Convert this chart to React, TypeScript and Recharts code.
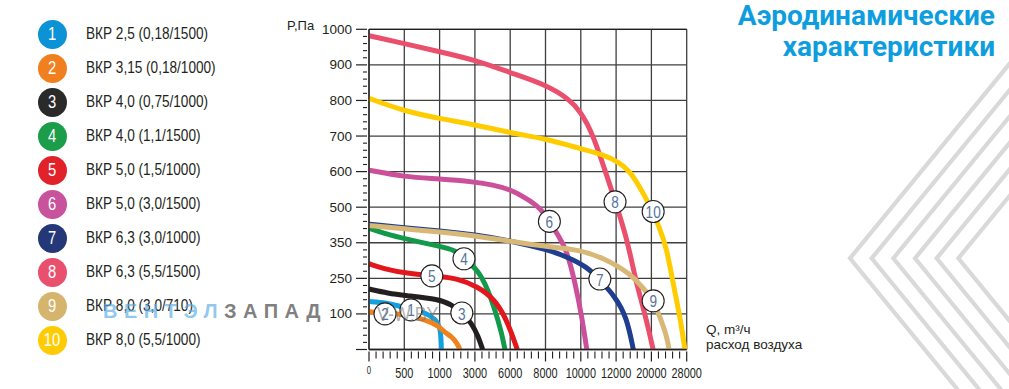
import { ComposedChart, Line, Scatter, XAxis, YAxis, CartesianGrid } from "recharts"

// axis tick values (the grid is non-linear: every cell is one tick step)
const Q_TICKS = [0, 500, 1000, 3000, 6000, 8000, 10000, 12000, 20000, 28000]
const P_TICKS = [0, 100, 250, 350, 500, 600, 700, 800, 900, 1000]
const TOP_TICKS = ["0", "0.14", "0.27", "0.83", "1.6", "2.2", "2.7", "3.3", "5.5", "7.7"]

// [Q m3/h, P Pa]
const curve1 = [[0, 152], [250, 147], [440, 132], [650, 117], [800, 104], [950, 85], [1040, 60], [1080, 30], [1100, 0]]
const curve2 = [[0, 109], [250, 106], [500, 98], [800, 84], [1000, 65], [1200, 51], [1700, 36], [2000, 17], [2150, 0]]
const curve3 = [[0, 205], [273, 187], [500, 178], [1000, 162], [1680, 138], [2260, 106], [2820, 74], [3290, 36], [3660, 0]]
const curve4 = [[0, 411], [226, 388], [500, 367], [1000, 340], [1880, 330], [2380, 305], [3270, 274], [4110, 202], [4710, 117], [5280, 46], [5550, 0]]
const curve5 = [[0, 291], [273, 274], [500, 265], [1000, 255], [1880, 251], [3270, 216], [4710, 159], [5550, 92], [6080, 46], [6400, 0]]
const curve6 = [[0, 604], [500, 585], [1000, 580], [3000, 571], [4500, 563], [6000, 550], [6840, 527], [7680, 500], [8220, 440], [8700, 384], [9200, 330], [9680, 231], [10060, 92], [10340, 0]]
const curve7 = [[0, 428], [500, 413], [1000, 401], [3000, 384], [6000, 359], [8140, 330], [9200, 311], [10340, 283], [11080, 244], [11940, 173], [14400, 92], [15900, 0]]
const curve8 = [[0, 982], [500, 960], [1000, 937], [3000, 914], [6000, 878], [8000, 845], [9380, 803], [10000, 766], [10360, 735], [10700, 700], [11380, 603], [12240, 500], [14700, 350], [16300, 250], [18550, 100], [20400, 0]]
const curve9 = [[0, 423], [500, 409], [1000, 396], [3000, 380], [6000, 356], [8060, 339], [9960, 330], [11260, 308], [15120, 265], [18560, 202], [20400, 155], [21920, 92], [23520, 36], [24000, 0]]
const curve10 = [[0, 806], [500, 770], [1000, 749], [3000, 732], [6000, 709], [8060, 692], [10000, 664], [11260, 648], [12880, 625], [15120, 601], [17440, 555], [19200, 516], [21920, 413], [23520, 331], [24880, 232], [26480, 92], [27600, 0]]

// where the circled numbers sit on the curves
const labelSpots = [[595, 117], [227, 100], [2260, 104], [2380, 305], [890, 257], [8220, 440], [11080, 247], [11940, 515], [20400, 155], [20400, 482]]

const models = [
  "ВКР 2,5 (0,18/1500)",
  "ВКР 3,15 (0,18/1000)",
  "ВКР 4,0 (0,75/1000)",
  "ВКР 4,0 (1,1/1500)",
  "ВКР 5,0 (1,5/1000)",
  "ВКР 5,0 (3,0/1500)",
  "ВКР 6,3 (3,0/1000)",
  "ВКР 6,3 (5,5/1500)",
  "ВКР 8,0 (3,0/710)",
  "ВКР 8,0 (5,5/1000)",
]

const legendColors = ["#0b93d6", "#ef7f1f", "#2a2a2a", "#1b9d4a", "#e2222a", "#c9529c", "#243877", "#e8506e", "#d5b46e", "#ffcb05"]
const lineColors = ["#12a0e0", "#f0821e", "#231f20", "#12994a", "#e3161d", "#cc4f9a", "#1f3e8f", "#ea4f6d", "#d8b876", "#ffcc00"]

const toGrid = (v: number, ticks: number[]) => {
  for (let i = 0; i < ticks.length - 1; i++) {
    if (v <= ticks[i + 1]) return i + (v - ticks[i]) / (ticks[i + 1] - ticks[i])
  }
  return ticks.length - 1
}

const curves = [curve1, curve2, curve3, curve4, curve5, curve6, curve7, curve8, curve9, curve10]
const series = curves.map((c) => c.map(([q, p]) => ({ x: toGrid(q, Q_TICKS), y: toGrid(p, P_TICKS) })))
const labels = labelSpots.map(([q, p], i) => ({ x: toGrid(q, Q_TICKS), y: toGrid(p, P_TICKS), n: i + 1 }))

const MAJOR = Q_TICKS.map((_, i) => i)
const MINOR = Array.from({ length: 46 }, (_, k) => k / 5)

const AXIS_FONT = "'Liberation Sans', Arial, sans-serif"
const INK = "#231f20"

const isMajor = (v: number) => Math.abs(v - Math.round(v)) < 1e-6

function BottomTick({ x, y, payload }: any) {
  const v = payload.value
  if (!isMajor(v)) return <line x1={x} y1={y} x2={x} y2={y + 7} stroke={INK} strokeWidth={1.1} />
  const i = Math.round(v)
  return (
    <g>
      <line x1={x} y1={y} x2={x} y2={y + 10} stroke={INK} strokeWidth={1.2} />
      <text
        transform={`translate(${x},${y + (i === 0 ? 19 : 22)}) scale(0.78,1)`}
        textAnchor="middle"
        dominantBaseline="central"
        fontFamily={AXIS_FONT}
        fontSize={i === 0 ? 10 : 14}
        fill={INK}
      >
        {Q_TICKS[i]}
      </text>
    </g>
  )
}

function TopTick({ x, y, payload }: any) {
  const v = payload.value
  if (!isMajor(v)) return <line x1={x} y1={y} x2={x} y2={y - 5} stroke={INK} strokeWidth={1.1} />
  const i = Math.round(v)
  return (
    <g>
      <line x1={x} y1={y} x2={x} y2={y - 9} stroke={INK} strokeWidth={1.2} />
      <text
        x={x - (i === 0 ? 1.5 : 0)}
        y={y - (i === 0 ? 17 : 19.5)}
        textAnchor="middle"
        dominantBaseline="central"
        fontFamily={AXIS_FONT}
        fontSize={i === 0 ? 10 : 13.5}
        fill={INK}
      >
        {TOP_TICKS[i]}
      </text>
    </g>
  )
}

function LeftTick({ x, y, payload }: any) {
  const v = payload.value
  if (!isMajor(v)) return <line x1={x} y1={y} x2={x - 4} y2={y} stroke={INK} strokeWidth={1.1} />
  const i = Math.round(v)
  return (
    <g>
      <line x1={x} y1={y} x2={x - 11} y2={y} stroke={INK} strokeWidth={1.2} />
      {i > 0 && (
        <text x={x - 15} y={y} textAnchor="end" dominantBaseline="central" fontFamily={AXIS_FONT} fontSize={13.5} fill={INK}>
          {P_TICKS[i]}
        </text>
      )}
    </g>
  )
}

function CurveLabel({ cx, cy, payload }: any) {
  return (
    <g>
      <circle cx={cx} cy={cy} r={11} fill="#ffffff" stroke={INK} strokeWidth={1.1} />
      <text
        transform={`translate(${cx},${cy + 0.5}) scale(0.8,1)`}
        textAnchor="middle"
        dominantBaseline="central"
        fontFamily={AXIS_FONT}
        fontSize={17}
        fill="#55739b"
      >
        {payload.n}
      </text>
    </g>
  )
}

function Chevrons() {
  const vy = 258.3
  const slope = 1.22
  return (
    <svg width={1009} height={389} style={{ position: "absolute", left: 0, top: 0 }}>
      {[0, 1, 2, 3, 4, 5].map((k) => {
        const vx = 850 + k * 21.67
        const pts = `${vx + (vy + 20) / slope},-20 ${vx},${vy} ${vx + (420 - vy) / slope},420`
        return <polyline key={k} points={pts} fill="none" stroke="#d9d9d9" strokeWidth={4.2} />
      })}
    </svg>
  )
}

export default function App() {
  return (
    <div style={{ position: "absolute", left: 0, top: 0, width: 1009, height: 389, background: "#fff", overflow: "hidden" }}>
      <Chevrons />

      <div style={{ position: "absolute", left: 0, top: 0 }}>
        <ComposedChart width={1009} height={389} margin={{ top: 4.3, right: 322.3, bottom: 9.5, left: 329 }}>
          <CartesianGrid xAxisId="b" yAxisId="l" stroke="#3f3f3f" strokeWidth={1.3} verticalValues={MAJOR} horizontalValues={MAJOR} />
          <XAxis
            xAxisId="t"
            orientation="top"
            type="number"
            domain={[0, 9]}
            ticks={MINOR}
            interval={0}
            height={25}
            tickSize={0}
            tickLine={false}
            axisLine={{ stroke: INK, strokeWidth: 1.3 }}
            tick={(p: any) => <TopTick {...p} />}
          />
          <XAxis
            xAxisId="b"
            dataKey="x"
            type="number"
            domain={[0, 9]}
            ticks={MINOR}
            interval={0}
            height={30}
            tickSize={0}
            tickLine={false}
            axisLine={{ stroke: INK, strokeWidth: 1.3 }}
            tick={(p: any) => <BottomTick {...p} />}
          />
          <YAxis
            yAxisId="l"
            type="number"
            domain={[0, 9]}
            ticks={MINOR}
            interval={0}
            width={40}
            tickSize={0}
            tickLine={false}
            axisLine={{ stroke: INK, strokeWidth: 1.3 }}
            tick={(p: any) => <LeftTick {...p} />}
          />
          {series.map((d, i) => (
            <Line
              key={i}
              xAxisId="b"
              yAxisId="l"
              data={d}
              dataKey="y"
              type="basis"
              stroke={lineColors[i]}
              strokeWidth={5}
              dot={false}
              activeDot={false}
              isAnimationActive={false}
            />
          ))}
          <Scatter xAxisId="b" yAxisId="l" data={labels} dataKey="y" shape={(p: any) => <CurveLabel {...p} />} isAnimationActive={false} />
        </ComposedChart>
      </div>

      {/* axis captions */}
      <div style={{ position: "absolute", left: 287, top: 18, fontFamily: AXIS_FONT, fontSize: 13, color: INK }}>P,Па</div>
      <div style={{ position: "absolute", left: 706, top: 322, fontFamily: AXIS_FONT, fontSize: 13.5, lineHeight: "15px", color: INK }}>
        <div>Q, m³/ч</div>
        <div>расход воздуха</div>
      </div>

      {/* title */}
      <div
        style={{
          position: "absolute",
          right: 14,
          top: 0,
          textAlign: "right",
          fontFamily: "Roboto, 'Open Sans', sans-serif",
          fontWeight: 700,
          fontSize: 28,
          lineHeight: "31px",
          color: "#0e9ee0",
        }}
      >
        <div>Аэродинамические</div>
        <div>характеристики</div>
      </div>

      {/* legend */}
      {models.map((m, i) => (
        <div
          key={i}
          style={{ position: "absolute", left: 37.5, top: 34 + i * 34 - 17, height: 34, display: "flex", alignItems: "center" }}
        >
          <div
            style={{
              width: 29,
              height: 29,
              borderRadius: "50%",
              background: legendColors[i],
              color: "#fff",
              display: "flex",
              alignItems: "center",
              justifyContent: "center",
              fontFamily: AXIS_FONT,
              fontSize: 18,
            }}
          >
            <span style={{ display: "inline-block", transform: "scaleX(0.82)" }}>{i + 1}</span>
          </div>
          <span
            style={{
              position: "absolute",
              left: 48.5,
              display: "inline-block",
              whiteSpace: "nowrap",
              transform: "scaleX(0.85)",
              transformOrigin: "left center",
              fontFamily: AXIS_FONT,
              fontSize: 16,
              color: INK,
            }}
          >
            {m}
          </span>
        </div>
      ))}

      {/* watermark */}
      <div style={{ position: "absolute", left: 103, top: 300, fontFamily: AXIS_FONT, fontSize: 20, fontWeight: 700, letterSpacing: 6.5, whiteSpace: "nowrap" }}>
        <span style={{ color: "rgba(95,175,228,0.7)" }}>ВЕНТЭЛ</span>
        <span style={{ color: "rgba(105,105,105,0.85)" }}>ЗАПАД</span>
      </div>
      <div
        style={{
          position: "absolute",
          left: 377,
          top: 302,
          fontFamily: AXIS_FONT,
          fontSize: 21,
          whiteSpace: "nowrap",
          color: "rgba(120,120,120,0.6)",
          transform: "scaleX(0.85)",
          transformOrigin: "left center",
        }}
      >
        V-W.BY
      </div>
    </div>
  )
}
